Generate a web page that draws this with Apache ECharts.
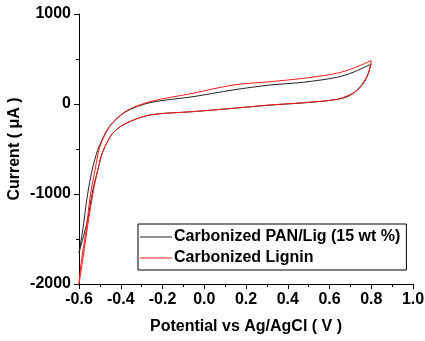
<!DOCTYPE html>
<html>
<head>
<meta charset="utf-8">
<script src="https://cdn.jsdelivr.net/npm/echarts@6/dist/echarts.min.js"></script>
<style>
  html, body { margin: 0; padding: 0; background: #fff; }
</style>
</head>
<body>
<div id="myChart" style="width: 425px; height: 341px;"></div>
<script>
  // potential (V), current (uA), one closed CV loop each
  let panLigPotential = [-0.6, -0.582, -0.562, -0.545, -0.527, -0.505, -0.455, -0.375, -0.26, -0.054, 0.138, 0.315, 0.474, 0.634, 0.713, 0.8,
    0.778, 0.746, 0.698, 0.634, 0.474, 0.315, 0.138, -0.054, -0.26, -0.375, -0.439, -0.486, -0.51, -0.534, -0.56, -0.6];
  let panLigCurrent = [-1650, -1400, -1050, -820, -640, -480, -252, -85, 15, 81, 156, 211, 241, 296, 352, 445,
    300, 190, 95, 50, 12, -12, -48, -85, -122, -215, -326, -530, -733, -956, -1300, -1650];

  let ligninPotential = [-0.6, -0.59, -0.566, -0.545, -0.527, -0.5, -0.45, -0.375, -0.26, -0.054, 0.138, 0.315, 0.474, 0.634, 0.713, 0.8,
    0.785, 0.76, 0.72, 0.634, 0.474, 0.315, 0.138, -0.054, -0.26, -0.375, -0.439, -0.486, -0.51, -0.53, -0.555, -0.58, -0.6];
  let ligninCurrent = [-2000, -1770, -1400, -1000, -780, -474, -240, -80, 26, 119, 211, 248, 285, 341, 396, 483,
    330, 220, 130, 52, 15, -11, -48, -85, -122, -215, -326, -530, -733, -956, -1300, -1700, -2000];

  let seriesNames = ['Carbonized PAN/Lig (15 wt %)', 'Carbonized Lignin'];

  function pairs(xs, ys) {
    return xs.map((x, i) => [x, ys[i]]);
  }

  let myChart = echarts.init(document.getElementById('myChart'));
  let font = 'Liberation Sans, Arial, sans-serif';

  let options = {
    animation: false,
    backgroundColor: '#fff',
    grid: { left: 79, right: 12, top: 14, bottom: 57, outerBoundsMode: 'none', containLabel: false },
    legend: {
      orient: 'vertical',
      left: 138,
      top: 224,
      width: 270,
      padding: [5, 6, 4, 2],
      borderColor: '#000',
      borderWidth: 1,
      icon: 'rect',
      itemWidth: 32,
      itemHeight: 1,
      itemGap: 5,
      data: seriesNames,
      textStyle: { fontFamily: font, fontWeight: 'bold', fontSize: 16, color: '#000', padding: [0, 0, 0, -3] }
    },
    xAxis: {
      type: 'value',
      min: -0.6,
      max: 1.0,
      interval: 0.2,
      name: 'Potential vs Ag/AgCl ( V )',
      nameLocation: 'middle',
      nameGap: 35,
      nameMoveOverlap: false,
      nameTextStyle: { fontFamily: font, fontWeight: 'bold', fontSize: 16, color: '#000' },
      axisLine: { onZero: false, lineStyle: { color: '#000', width: 1 } },
      axisTick: { length: 5, lineStyle: { color: '#000' } },
      minorTick: { show: true, splitNumber: 2, length: 3, lineStyle: { color: '#000' } },
      splitLine: { show: false },
      axisLabel: {
        margin: 8, fontFamily: font, fontWeight: 'bold', fontSize: 16, color: '#000',
        formatter: v => v.toFixed(1)
      }
    },
    yAxis: {
      type: 'value',
      min: -2000,
      max: 1000,
      interval: 1000,
      name: 'Current ( μA )',
      nameLocation: 'middle',
      nameGap: 56,
      nameMoveOverlap: false,
      nameTextStyle: { fontFamily: font, fontWeight: 'bold', fontSize: 16, color: '#000' },
      axisLine: { show: true, onZero: false, lineStyle: { color: '#000', width: 1 } },
      axisTick: { show: true, length: 5, lineStyle: { color: '#000' } },
      minorTick: { show: true, splitNumber: 2, length: 3, lineStyle: { color: '#000' } },
      splitLine: { show: false },
      axisLabel: {
        margin: 8, fontFamily: font, fontWeight: 'bold', fontSize: 16, color: '#000',
        formatter: v => String(v)
      }
    },
    series: [
      {
        name: seriesNames[0],
        type: 'line',
        data: pairs(panLigPotential, panLigCurrent),
        symbol: 'none',
        smooth: 0.3,
        lineStyle: { color: '#222', width: 1 },
        itemStyle: { color: '#222' }
      },
      {
        name: seriesNames[1],
        type: 'line',
        data: pairs(ligninPotential, ligninCurrent),
        symbol: 'none',
        smooth: 0.3,
        lineStyle: { color: '#ff1a1a', width: 1 },
        itemStyle: { color: '#ff1a1a' }
      }
    ]
  };
  myChart.setOption(options);
</script>
</body>
</html>
